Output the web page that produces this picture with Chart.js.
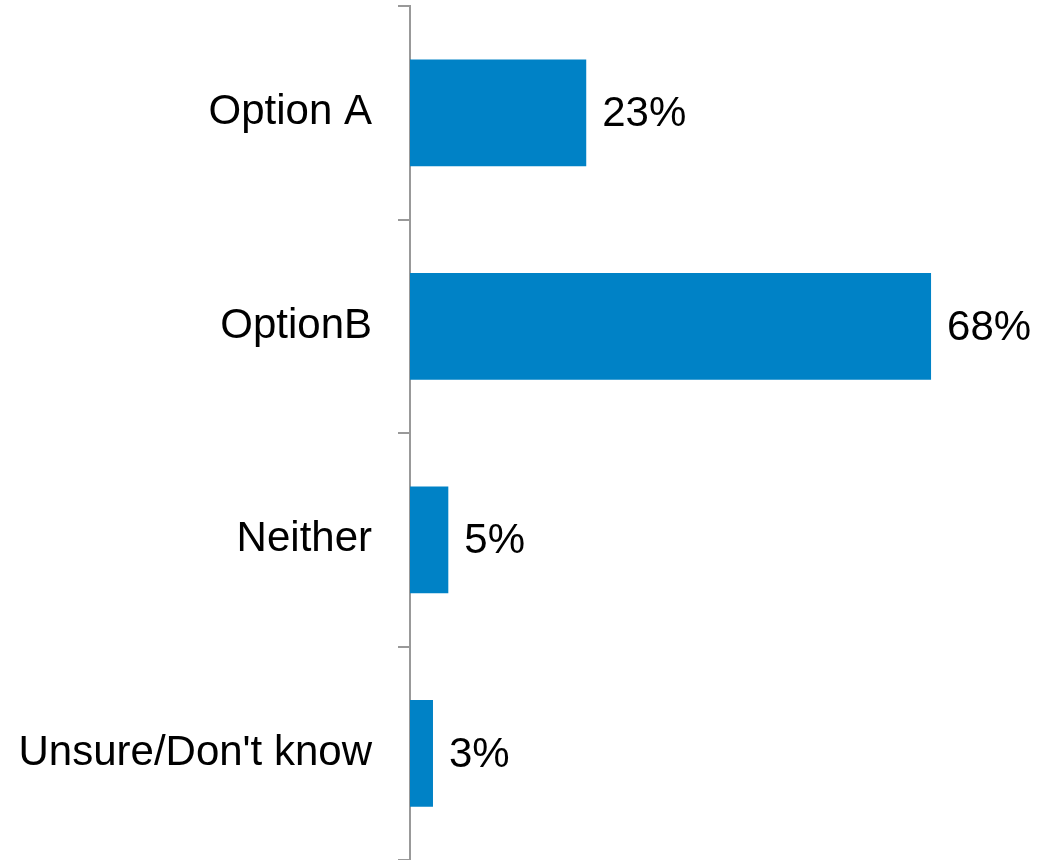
<!DOCTYPE html>
<html>
<head>
<meta charset="utf-8">
<script src="https://cdn.jsdelivr.net/npm/chart.js@4"></script>
<style>
  html, body { margin: 0; padding: 0; background: #fff; }
  #wrapper { width: 1037px; height: 860px; }
</style>
</head>
<body>
<div id="wrapper"><canvas id="chart"></canvas></div>
<script>
"use strict"

const categories = ["Option A", "OptionB", "Neither", "Unsure/Don't know"];
const values = [23, 68, 5, 3];

const FONT = "'Liberation Sans', Arial, sans-serif";

// draws the "23%" labels next to each bar
const valueLabels = {
    id: "valueLabels",
    afterDatasetsDraw(chart) {
        let ctx = chart.ctx;
        let meta = chart.getDatasetMeta(0);
        ctx.save();
        ctx.font = "42px " + FONT;
        ctx.fillStyle = "#000";
        ctx.textAlign = "left";
        ctx.textBaseline = "middle";
        meta.data.forEach(function (bar, i) {
            ctx.fillText(values[i] + "%", bar.x + 16, bar.y + 2);
        });
        ctx.restore();
    }
};

window.onload = function () {
    let canvas = document.getElementById("chart");
    new Chart(canvas, {
        type: "bar",
        data: {
            labels: categories,
            datasets: [{
                data: values,
                backgroundColor: "#0082C6",
                borderWidth: 0,
                categoryPercentage: 1,
                barPercentage: 0.5
            }]
        },
        options: {
            indexAxis: "y",
            responsive: true,
            maintainAspectRatio: false,
            animation: false,
            layout: { padding: { top: 6, right: 14, bottom: 0, left: 0 } },
            plugins: {
                legend: { display: false },
                tooltip: { enabled: false }
            },
            scales: {
                x: {
                    display: false,
                    min: 0,
                    max: 80
                },
                y: {
                    offset: true,
                    afterFit: function (scale) {
                        scale.width = 410;
                        // big labels would otherwise push the axis in from top and bottom
                        scale.paddingTop = 0;
                        scale.paddingBottom = 0;
                    },
                    border: { display: true, color: "#999", width: 2 },
                    grid: {
                        offset: true,
                        drawOnChartArea: false,
                        drawTicks: true,
                        tickLength: 12,
                        color: "#999",
                        lineWidth: 2
                    },
                    ticks: {
                        padding: 26,
                        color: "#000",
                        font: { family: FONT, size: 42 }
                    }
                }
            }
        },
        plugins: [valueLabels]
    });
}
</script>
</body>
</html>
